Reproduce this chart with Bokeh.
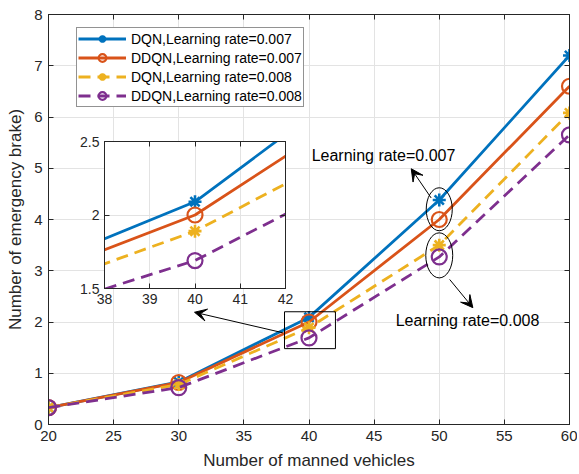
from bokeh.plotting import figure
from bokeh.models import (Range1d, FixedTicker, LinearAxis, Legend, LegendItem,
                          Arrow, VeeHead, Label, Column)
from bokeh.embed import file_html
from bokeh.resources import INLINE

# ---------------- data ----------------
vehicles = [20, 30, 40, 50, 60]
dqn_007 = [0.33, 0.83, 2.09, 4.38, 7.20]
ddqn_007 = [0.33, 0.82, 2.00, 4.00, 6.60]
dqn_008 = [0.33, 0.78, 1.89, 3.50, 6.08]
ddqn_008 = [0.33, 0.72, 1.69, 3.27, 5.65]

series_labels = ["DQN,Learning rate=0.007", "DDQN,Learning rate=0.007",
                 "DQN,Learning rate=0.008", "DDQN,Learning rate=0.008"]
x_ticks = [20, 25, 30, 35, 40, 45, 50, 55, 60]
y_ticks = [0, 1, 2, 3, 4, 5, 6, 7, 8]
inset_x_ticks = [38, 39, 40, 41, 42]
inset_y_ticks = [1.5, 2, 2.5]

FONT = "Liberation Sans"
AX = "#262626"
GRID = "#e3e3e3"
colors = ["#0072BD", "#D95319", "#EDB120", "#7E2F8E"]
dashes = ["solid", "solid", "12 7", "12 7"]
markers = ["asterisk", "circle", "asterisk", "circle"]
msize = [13, 15, 13, 15]
series = [dqn_007, ddqn_007, dqn_008, ddqn_008]


def style_axis(ax, size):
    ax.axis_line_color = AX
    ax.major_tick_line_color = AX
    ax.major_tick_in = 5
    ax.major_tick_out = 0
    ax.minor_tick_line_color = None
    ax.major_label_text_font = FONT
    ax.major_label_text_font_size = size
    ax.major_label_text_color = AX
    ax.axis_label_text_font = FONT
    ax.axis_label_text_font_style = "normal"
    ax.axis_label_text_color = AX
    ax.axis_label_text_font_size = "17px"


def draw_series(fig):
    items = []
    for ys, c, d, m, s, lab in zip(series, colors, dashes, markers, msize, series_labels):
        r1 = fig.line(vehicles, ys, line_color=c, line_width=2.8, line_dash=d)
        r2 = fig.scatter(vehicles, ys, marker=m, size=s, line_color=c, fill_alpha=0,
                         line_width=2.6 if m == "asterisk" else 2.2)
        items.append(LegendItem(label=lab, renderers=[r1, r2]))
    return items


# ---------------- main figure ----------------
p = figure(width=577, height=472, output_backend="svg", toolbar_location=None,
           x_range=Range1d(20, 60), y_range=Range1d(0, 8),
           min_border_left=48, min_border_right=8, min_border_top=14, min_border_bottom=46)
p.outline_line_color = AX
p.background_fill_color = "white"
p.border_fill_color = "white"
p.xaxis.ticker = FixedTicker(ticks=x_ticks)
p.yaxis.ticker = FixedTicker(ticks=y_ticks)
p.xaxis.axis_label = "Number of manned vehicles"
p.yaxis.axis_label = "Number of emergency brake)"
style_axis(p.xaxis[0], "15px")
style_axis(p.yaxis[0], "15px")
p.xaxis.major_label_standoff = 6
p.yaxis.major_label_standoff = 6
p.xaxis.axis_label_standoff = 7
p.yaxis.axis_label_standoff = 6
p.grid.grid_line_color = GRID
p.xgrid.ticker = FixedTicker(ticks=x_ticks)
p.ygrid.ticker = FixedTicker(ticks=y_ticks)

for loc, tick in (("above", x_ticks), ("right", y_ticks)):
    ax = LinearAxis(ticker=FixedTicker(ticks=tick))
    style_axis(ax, "0px")
    ax.major_label_text_alpha = 0
    ax.major_label_standoff = 0
    p.add_layout(ax, loc)

items = draw_series(p)
legend = Legend(items=items, location=(28, 317), label_text_font=FONT,
                label_text_font_size="14px", label_text_color="black",
                glyph_width=48, glyph_height=19, label_height=19, spacing=0,
                padding=1, margin=0, border_line_color=AX, border_line_width=1,
                label_standoff=5, background_fill_alpha=1)
p.add_layout(legend)

# zoom box, ellipses, arrows, labels
p.quad(left=[38.12], right=[42.03], bottom=[1.48], top=[2.2],
       fill_alpha=0, line_color="black", line_width=1)
p.ellipse(x=[50, 50], y=[4.2, 3.3], width=[2.0, 2.07], height=[0.84, 0.88],
          fill_alpha=0, line_color="black", line_width=1)
for (x0, y0, x1, y1) in [(49.38, 4.42, 47.85, 4.99), (50.8, 2.83, 52.58, 2.28),
                         (37.99, 1.79, 31.21, 2.19)]:
    p.add_layout(Arrow(x_start=x0, y_start=y0, x_end=x1, y_end=y1, line_width=1,
                       line_color="black",
                       end=VeeHead(size=12, fill_color="black", line_color="black")))
for (tx, ty, t) in [(45.72, 5.25, "Learning rate=0.007"), (52.17, 2.02, "Learning rate=0.008")]:
    p.add_layout(Label(x=tx, y=ty, text=t, text_font=FONT, text_font_size="16px",
                       text_align="center", text_baseline="middle", text_color="black"))

# ---------------- inset ----------------
ins = figure(width=237, height=181, output_backend="svg", toolbar_location=None,
             x_range=Range1d(38, 42), y_range=Range1d(1.5, 2.5),
             min_border_left=26, min_border_right=6, min_border_top=10, min_border_bottom=24)
ins.outline_line_color = AX
ins.background_fill_color = "white"
ins.border_fill_alpha = 0
ins.xaxis.ticker = FixedTicker(ticks=inset_x_ticks)
ins.yaxis.ticker = FixedTicker(ticks=inset_y_ticks)
ins.yaxis.major_label_overrides = {1.5: "1.5", 2: "2", 2.5: "2.5"}
style_axis(ins.xaxis[0], "14px")
style_axis(ins.yaxis[0], "14px")
ins.xaxis.major_label_standoff = 5
ins.yaxis.major_label_standoff = 5
ins.grid.grid_line_color = GRID
for loc, tick in (("above", inset_x_ticks), ("right", inset_y_ticks)):
    ax = LinearAxis(ticker=FixedTicker(ticks=tick))
    style_axis(ax, "0px")
    ax.major_label_text_alpha = 0
    ax.major_label_standoff = 0
    ins.add_layout(ax, loc)
draw_series(ins)
ins.styles = {"position": "absolute", "left": "56px", "top": "131px"}

layout = Column(children=[p, ins])
open("out.html", "w").write(file_html(layout, INLINE))
